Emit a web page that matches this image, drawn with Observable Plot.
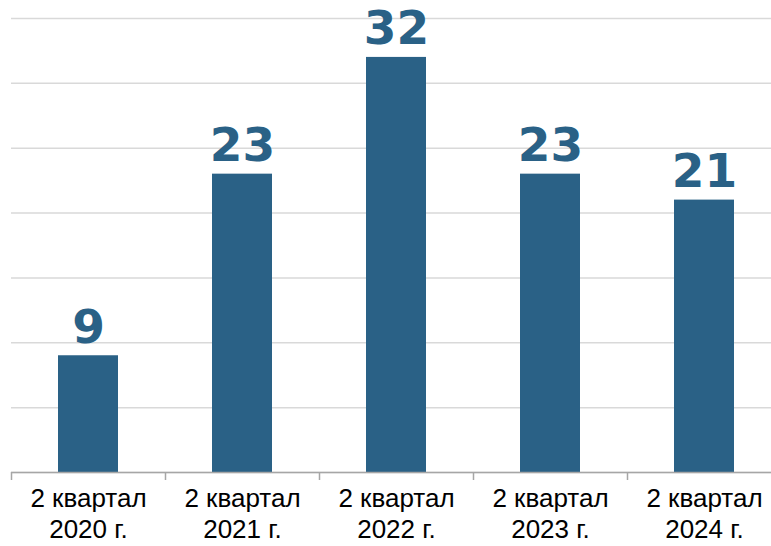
<!DOCTYPE html>
<html><head><meta charset="utf-8">
<script src="https://cdn.jsdelivr.net/npm/d3@7"></script>
<script src="https://cdn.jsdelivr.net/npm/@observablehq/plot@0.6"></script>
<style>html,body{margin:0;padding:0;background:#fff;overflow:hidden}</style>
</head><body><div id="chart"></div>
<script>
const categories = ["2 квартал\n2020 г.", "2 квартал\n2021 г.", "2 квартал\n2022 г.", "2 квартал\n2023 г.", "2 квартал\n2024 г."];
const values = [9, 23, 32, 23, 21];
const yTicks = [0, 5, 10, 15, 20, 25, 30, 35];
const data = categories.map((c, i) => ({cat: c, value: values[i]}));
const barColor = "#2A6186";
const plot = Plot.plot({
  width: 771, height: 546,
  marginLeft: 11, marginRight: 0, marginTop: 18, marginBottom: 74,
  style: {fontFamily: "Liberation Sans, Arial, sans-serif", background: "#fff"},
  x: {domain: categories, range: [11, 781], paddingInner: 0.61, paddingOuter: 0.305, align: 0.5},
  y: {domain: [0, 35]},
  marks: [
    Plot.gridY(yTicks, {stroke: "#d9d9d9", strokeWidth: 1.5, strokeOpacity: 1}),
    Plot.barY(data, {x: "cat", y: "value", fill: barColor}),
    Plot.ruleY([0], {stroke: "#a6a6a6", strokeWidth: 1.5}),
    Plot.ruleX(categories, {x: d => d, dx: -77, y1: 0, y2: 0, insetBottom: -8, stroke: "#a6a6a6", strokeWidth: 1.5}),
    Plot.text(data, {x: "cat", y: "value", text: d => String(d.value), dy: -13, lineAnchor: "bottom", fill: barColor, fontSize: 47, fontWeight: "bold", fontFamily: "DejaVu Sans"}),
    Plot.axisX({tickSize: 0, tickPadding: 13, fontSize: 26, lineHeight: 1.18, fill: "#000", label: null}),
    Plot.axisY({ticks: [], label: null, tickSize: 0})
  ]
});
document.getElementById("chart").append(plot);
</script></body></html>
